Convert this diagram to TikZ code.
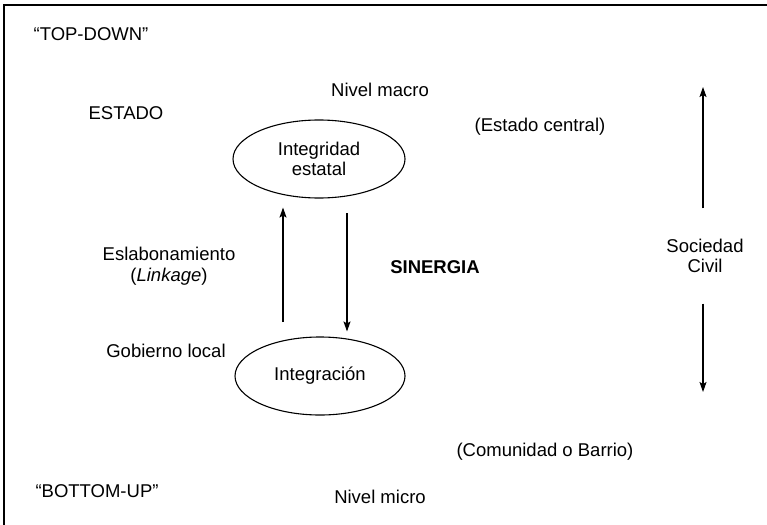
\documentclass[tikz,border=0pt]{standalone}
\usepackage{fontspec}
\setmainfont{Liberation Sans}
\usepackage{tikz}
\usetikzlibrary{shapes.geometric, arrows.meta}
\tikzset{
	plain text/.style={
		font=\fontsize{18.5}{20.5}\selectfont,
		align=center,
		inner sep=0pt
	},
	level ellipse/.style={
		ellipse,
		draw,
		line width=1.1pt,
		font=\fontsize{18.5}{20.5}\selectfont,
		align=center
	},
}

\begin{document}
\begin{tikzpicture}[x=1pt, y=-1pt, >={Stealth[length=10pt, width=7pt, inset=2pt]}, line width=1.1pt]

\clip (0,0) rectangle (767,524);
\draw [line width=1.6pt] (4,5) rectangle (800,560);

\node [level ellipse, minimum width=172pt, minimum height=78pt] (estatal) at (319,159) {Integridad\\estatal};
\node [level ellipse, minimum width=170pt, minimum height=78pt] (integ) at (320,376) {Integraci\'on};

\foreach \t/\x/\y [count=\i] in {{``TOP-DOWN''}/91/34, ESTADO/126/113, Nivel macro/380/90,
	(Estado central)/540/127, Gobierno local/166/351, (Comunidad o Barrio)/545/452,
	{``BOTTOM-UP''}/97/491, Nivel micro/380/497}
	\node [plain text] (lab-\i) at (\x,\y) {\t};

\node [plain text] (linkage) at (169,266) {Eslabonamiento\\(\textit{Linkage})};
\node [plain text, font=\fontsize{18.5}{20.5}\selectfont\bfseries] (sinergia) at (435,267) {SINERGIA};
\node [plain text] (sociedad) at (705,256) {Sociedad\\Civil};

\coordinate (up-start) at (283,322);
\coordinate (down-start) at (347,213);
\coordinate (top-tip) at (703,87);
\coordinate (bot-tip) at (703,392);

\draw [->, shorten >=9pt] (up-start) -- (up-start |- estatal.south);
\draw [->, shorten >=5pt] (down-start) -- (down-start |- integ.north);

\draw [->] (sociedad.north) ++(-2,-30) -- (top-tip);
\draw [->] (sociedad.south) ++(-2,30) -- (bot-tip);

\end{tikzpicture}
\end{document}
